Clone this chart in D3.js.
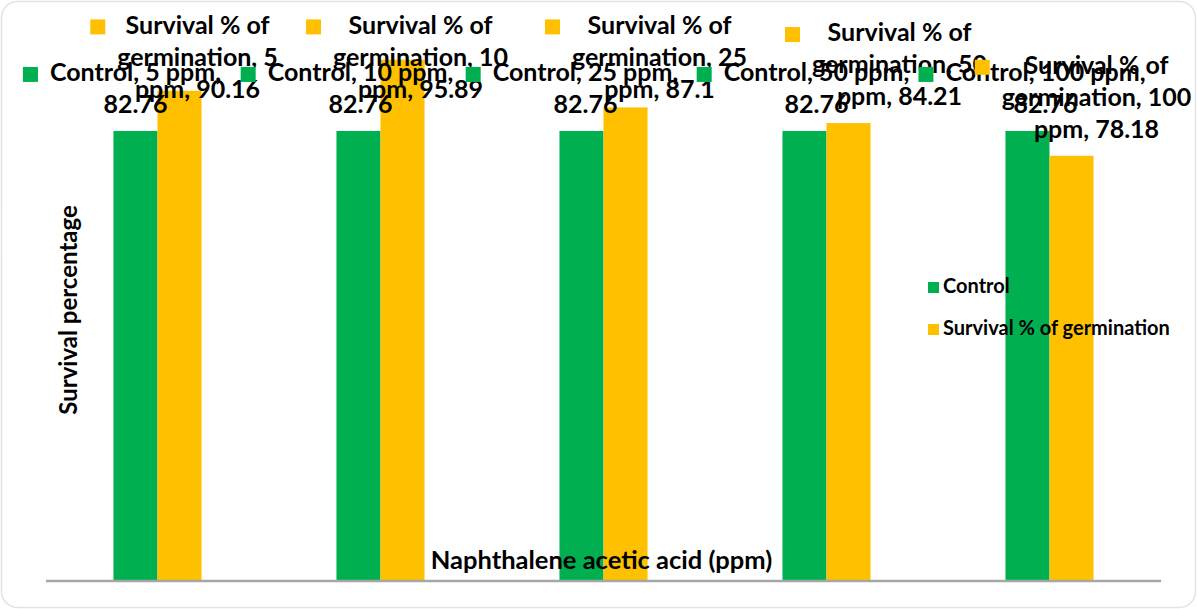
<!DOCTYPE html>
<html>
<head>
<meta charset="utf-8">
<script src="https://cdn.jsdelivr.net/npm/d3@7"></script>
<style>
  html, body { margin: 0; padding: 0; background: #ffffff; }
  svg { display: block; }
  text { font-family: Lato, "Noto Sans", sans-serif; font-weight: 700; fill: #000; }
</style>
</head>
<body>
<svg id="chart" width="1197" height="609"></svg>
<script>
// Treatment levels of naphthalene acetic acid
const categories = ["5 ppm", "10 ppm", "25 ppm", "50 ppm", "100 ppm"];
const seriesNames = ["Control", "Survival % of germination"];
const controlValues = [82.76, 82.76, 82.76, 82.76, 82.76];
const survivalValues = [90.16, 95.89, 87.1, 84.21, 78.18];
const seriesColors = ["#00b050", "#ffc000"];

// Horizontal nudges for the data-label blocks (px), one per category
const controlLabelNudge = [0, 2, 4, 12, 18];
const survivalLabelNudge = [18, 18, 34, 51, 25];

const W = 1197, H = 609;
const plot = { left: 46, right: 1161, top: 37.4, bottom: 580 };

const svg = d3.select("#chart");

// Rounded chart frame
svg.append("rect")
  .attr("x", 1.5).attr("y", 1.5)
  .attr("width", W - 3).attr("height", H - 3)
  .attr("rx", 16)
  .attr("fill", "#fff")
  .attr("stroke", "#e3e3e3")
  .attr("stroke-width", 1.5);

const x0 = d3.scaleBand()
  .domain(categories)
  .range([plot.left, plot.right])
  .paddingInner(0.605)
  .paddingOuter(0.3025);

const x1 = d3.scaleBand()
  .domain(seriesNames)
  .range([0, x0.bandwidth()]);

const y = d3.scaleLinear()
  .domain([0, 100])
  .range([plot.bottom, plot.top]);

const rows = categories.map((c, i) => ({
  cat: c,
  values: [
    { series: seriesNames[0], value: controlValues[i], color: seriesColors[0], nudge: controlLabelNudge[i] },
    { series: seriesNames[1], value: survivalValues[i], color: seriesColors[1], nudge: survivalLabelNudge[i] }
  ]
}));

// Bars
const groups = svg.append("g").selectAll("g")
  .data(rows)
  .join("g")
  .attr("transform", d => `translate(${x0(d.cat)},0)`);

groups.selectAll("rect")
  .data(d => d.values)
  .join("rect")
  .attr("x", d => x1(d.series))
  .attr("y", d => y(d.value))
  .attr("width", x1.bandwidth())
  .attr("height", d => y(0) - y(d.value))
  .attr("fill", d => d.color);

// Category axis line
svg.append("line")
  .attr("x1", plot.left).attr("x2", plot.right)
  .attr("y1", plot.bottom + 1).attr("y2", plot.bottom + 1)
  .attr("stroke", "#a6a6a6")
  .attr("stroke-width", 2.5);

// Axis titles
svg.append("text")
  .attr("transform", `translate(71,310) rotate(-90)`)
  .attr("text-anchor", "middle")
  .attr("dominant-baseline", "middle")
  .style("font-size", "24px")
  .text("Survival percentage");

svg.append("text")
  .attr("x", (plot.left + plot.right) / 2 - 2)
  .attr("y", 562)
  .attr("text-anchor", "middle")
  .attr("dominant-baseline", "middle")
  .style("font-size", "25.5px")
  .text("Naphthalene acetic acid (ppm)");

// Legend
const legend = svg.append("g").attr("transform", "translate(928,288)");
seriesNames.forEach((name, i) => {
  const g = legend.append("g").attr("transform", `translate(0,${i * 42})`);
  g.append("rect").attr("x", 0).attr("y", -6).attr("width", 11).attr("height", 11)
    .attr("fill", seriesColors[i]);
  g.append("text").attr("x", 15).attr("y", 0)
    .attr("dominant-baseline", "middle")
    .style("font-size", "20px")
    .text(name);
});

// Data labels: "series, category, value", wrapped
const LABEL_FONT = 25, LINE_H = 32, MAX_CHARS = 17;
function wrap(str) {
  const words = str.split(" ");
  const lines = [];
  let cur = "";
  words.forEach(w => {
    const next = cur ? cur + " " + w : w;
    if (next.length > MAX_CHARS && cur) { lines.push(cur); cur = w; }
    else cur = next;
  });
  if (cur) lines.push(cur);
  return lines;
}

const labelLayer = svg.append("g");
rows.forEach(r => {
  r.values.forEach(v => {
    const lines = wrap(`${v.series}, ${r.cat}, ${v.value}`);
    const cx = x0(r.cat) + x1(v.series) + x1.bandwidth() / 2 + v.nudge;
    const firstCenter = Math.max(plot.top - 10, y(v.value) - 24 - (lines.length - 1) * LINE_H);
    const g = labelLayer.append("g");
    const texts = g.selectAll("text")
      .data(lines)
      .join("text")
      .attr("x", cx)
      .attr("y", (d, i) => firstCenter + i * LINE_H)
      .attr("text-anchor", "middle")
      .attr("dominant-baseline", "middle")
      .style("font-size", LABEL_FONT + "px")
      .text(d => d);
    const widest = d3.max(texts.nodes(), n => n.getComputedTextLength());
    g.append("rect")
      .attr("x", cx - widest / 2 - 12 - 15)
      .attr("y", firstCenter - 8)
      .attr("width", 15).attr("height", 15)
      .attr("fill", v.color);
  });
});
</script>
</body>
</html>
